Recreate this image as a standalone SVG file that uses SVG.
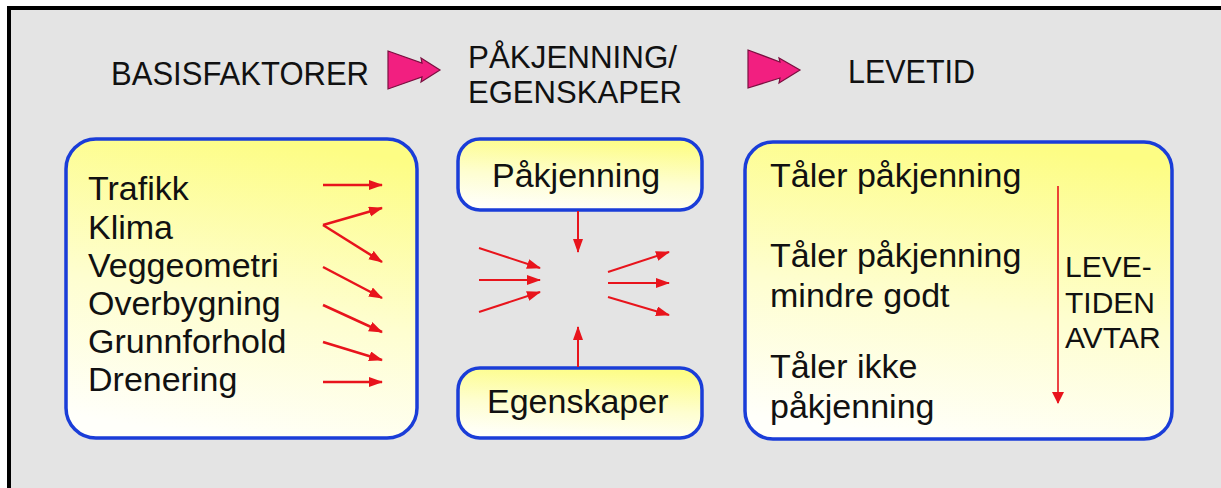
<svg xmlns="http://www.w3.org/2000/svg" width="1221" height="488" viewBox="0 0 1221 488">
<style>
.t{font-family:"Liberation Sans",Arial,sans-serif;fill:#111;}
.h{font-size:34px;}
.h2{font-size:31px;}
.b{font-size:34px;}
.box{stroke:#1a3dd8;stroke-width:3.5;fill:url(#yg);}
.ar{stroke:#e8141c;stroke-width:2.5;fill:none;marker-end:url(#ah);}
.am{stroke:#e8141c;stroke-width:2;fill:none;marker-end:url(#ah);}
.pk{fill:#f21f80;stroke:#7a1040;stroke-width:1.2;}
</style>
<defs>
<linearGradient id="yg" x1="0.6" y1="0" x2="0.4" y2="1">
<stop offset="0" stop-color="#fdfd84"/>
<stop offset="0.55" stop-color="#fefed0"/>
<stop offset="1" stop-color="#fffffa"/>
</linearGradient>
<marker id="ah" markerUnits="userSpaceOnUse" markerWidth="14" markerHeight="11" refX="13" refY="5" orient="auto">
<path d="M0,0 L14,5 L0,10 z" fill="#e8141c"/>
</marker>
<marker id="ah2" markerUnits="userSpaceOnUse" markerWidth="12" markerHeight="14" refX="11" refY="6" orient="auto">
<path d="M0,0 L12,6 L0,12 z" fill="#e8141c"/>
</marker>
</defs>
<rect x="0" y="0" width="1221" height="488" fill="#ffffff"/>
<rect x="9" y="8" width="1240" height="500" fill="#e4e4e4" stroke="#000" stroke-width="4"/>

<g id="header">
<text class="t h" x="111" y="85" textLength="258" lengthAdjust="spacingAndGlyphs">BASISFAKTORER</text>
<polygon class="pk" points="388,51 422,63 421,58 440,70 421,82 422,77 388,89"/>
<text class="t h2" x="468" y="68" textLength="209" lengthAdjust="spacingAndGlyphs">PÅKJENNING/</text>
<text class="t h2" x="468" y="103" textLength="214" lengthAdjust="spacingAndGlyphs">EGENSKAPER</text>
<polygon class="pk" points="748,50 780,62 779,58 800,70 779,83 780,78 748,88"/>
<text class="t h" x="848" y="83" textLength="127" lengthAdjust="spacingAndGlyphs">LEVETID</text>
</g>

<g id="basisfaktorer">
<rect class="box" x="66" y="139" width="351" height="299" rx="30" ry="30"/>
<text class="t b" x="88" y="200">Trafikk</text>
<text class="t b" x="88" y="239">Klima</text>
<text class="t b" x="88" y="277">Veggeometri</text>
<text class="t b" x="88" y="315">Overbygning</text>
<text class="t b" x="88" y="353">Grunnforhold</text>
<text class="t b" x="88" y="391">Drenering</text>
</g>

<g id="pakjenning">
<rect class="box" x="458" y="139" width="244" height="71" rx="22" ry="22"/>
<text class="t b" x="492" y="187">Påkjenning</text>
</g>

<g id="egenskaper">
<rect class="box" x="458" y="368" width="244" height="70" rx="22" ry="22"/>
<text class="t b" x="487" y="413">Egenskaper</text>
</g>

<g id="levetid">
<rect class="box" x="745" y="142" width="427" height="297" rx="28" ry="28"/>
<text class="t b" x="770" y="187">Tåler påkjenning</text>
<text class="t b" x="770" y="267">Tåler påkjenning</text>
<text class="t b" x="770" y="307">mindre godt</text>
<text class="t b" x="770" y="378">Tåler ikke</text>
<text class="t b" x="770" y="418">påkjenning</text>
<text class="t" style="font-size:30px" x="1065" y="277">LEVE-</text>
<text class="t" style="font-size:30px" x="1065" y="313">TIDEN</text>
<text class="t" style="font-size:30px" x="1065" y="348">AVTAR</text>
</g>

<g id="connectors">
<line class="ar" x1="323" y1="185" x2="382" y2="185"/>
<line class="ar" x1="323" y1="225" x2="382" y2="208"/>
<line class="ar" x1="323" y1="225" x2="382" y2="262"/>
<line class="ar" x1="323" y1="267" x2="382" y2="298"/>
<line class="ar" x1="323" y1="305" x2="382" y2="332"/>
<line class="ar" x1="323" y1="342" x2="382" y2="360"/>
<line class="ar" x1="323" y1="382" x2="382" y2="382"/>

<line class="am" x1="578" y1="211" x2="578" y2="252"/>
<line class="am" x1="578" y1="367" x2="578" y2="327"/>
<line class="am" x1="479" y1="248" x2="540" y2="268"/>
<line class="am" x1="479" y1="280" x2="540" y2="280"/>
<line class="am" x1="479" y1="312" x2="540" y2="292"/>
<line class="am" x1="608" y1="272" x2="669" y2="252"/>
<line class="am" x1="608" y1="283" x2="669" y2="283"/>
<line class="am" x1="608" y1="297" x2="669" y2="315"/>

<line x1="1058" y1="186" x2="1058" y2="403" stroke="#e8141c" stroke-width="1.6" marker-end="url(#ah2)"/>
</g>
</svg>
